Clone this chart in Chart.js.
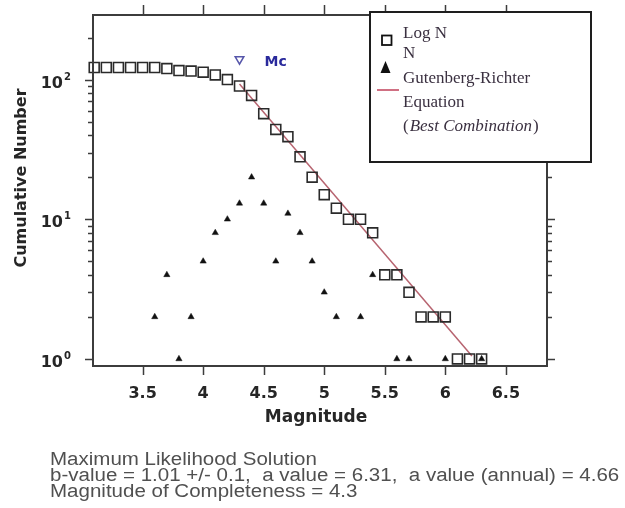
<!DOCTYPE html>
<html><head><meta charset="utf-8">
<script src="https://cdn.jsdelivr.net/npm/chart.js@4/dist/chart.umd.min.js"></script>
<style>html,body{margin:0;padding:0;background:#fff;}#wrap{width:625px;height:508px;position:relative;}</style>
</head><body><div id="wrap"><canvas id="c" width="625" height="508"></canvas></div>
<script>
// ---- data ----
const cumMagnitudes = [3.1,3.2,3.3,3.4,3.5,3.6,3.7,3.8,3.9,4.0,4.1,4.2,4.3,4.4,4.5,4.6,4.7,4.8,4.9,5.0,5.1,5.2,5.3,5.4,5.5,5.6,5.7,5.8,5.9,6.0,6.1,6.2,6.3];
const cumulativeCounts = [122,122,122,122,122,122,120,116,115,113,108,100,90,77,57,44,39,28,20,15,12,10,10,8,4,4,3,2,2,2,1,1,1];
const eventMagnitudes = [3.6,3.7,3.8,3.9,4.0,4.1,4.2,4.3,4.4,4.5,4.6,4.7,4.8,4.9,5.0,5.1,5.3,5.4,5.6,5.7,6.0,6.3];
const eventCounts = [2,4,1,2,5,8,10,13,20,13,5,11,8,5,3,2,2,4,1,1,1,1];
const grMagnitudes = [4.3, 6.22];
const grCounts = [93, 1.05];
const mcMagnitudes = [4.3];
const mcLevels = [140];
const xTickValues = [3.5,4,4.5,5,5.5,6,6.5];
const xTickLabels = ['3.5','4','4.5','5','5.5','6','6.5'];
const yTickValues = [1,10,100];
const yTickExponents = ['0','1','2'];
const yMinorValues = [2,3,4,5,6,7,8,9,20,30,40,50,60,70,80,90,200];
const legendLabels = ['Log N','N','Gutenberg-Richter','Equation'];
const footerLines = ['Maximum Likelihood Solution','b-value = 1.01 +/- 0.1,  a value = 6.31,  a value (annual) = 4.66','Magnitude of Completeness = 4.3'];

const toXY = (xs, ys) => xs.map((x, i) => ({x: x, y: ys[i]}));

const AX = '#3c3c3c';
const deco = {
  id: 'deco',
  afterDraw(chart) {
    const ctx = chart.ctx, xs = chart.scales.x, ys = chart.scales.y, a = chart.chartArea;
    ctx.save();
    // frame
    ctx.strokeStyle = AX; ctx.lineWidth = 2;
    ctx.strokeRect(a.left, a.top, a.right - a.left, a.bottom - a.top);
    ctx.lineWidth = 1.5;
    ctx.beginPath();
    xTickValues.forEach(v => {
      const px = Math.round(xs.getPixelForValue(v)) + 0.5;
      ctx.moveTo(px, a.bottom); ctx.lineTo(px, a.bottom + 9);
      ctx.moveTo(px, a.top); ctx.lineTo(px, a.top - 10);
    });
    yTickValues.forEach(v => {
      const py = Math.round(ys.getPixelForValue(v)) + 0.5;
      ctx.moveTo(a.left, py); ctx.lineTo(a.left - 8, py);
      ctx.moveTo(a.right, py); ctx.lineTo(a.right + 8, py);
    });
    yMinorValues.forEach(v => {
      const py = Math.round(ys.getPixelForValue(v)) + 0.5;
      ctx.moveTo(a.left, py); ctx.lineTo(a.left - 5, py);
      ctx.moveTo(a.right, py); ctx.lineTo(a.right + 5, py);
    });
    ctx.stroke();
    // x tick labels
    ctx.fillStyle = '#262626';
    ctx.font = 'bold 16px "DejaVu Sans"';
    ctx.textAlign = 'center'; ctx.textBaseline = 'alphabetic';
    xTickValues.forEach((v, i) => ctx.fillText(xTickLabels[i], xs.getPixelForValue(v), 398));
    // y tick labels 10^n
    yTickValues.forEach((v, i) => {
      const py = ys.getPixelForValue(v);
      ctx.font = 'bold 16px "DejaVu Sans"'; ctx.textAlign = 'right';
      ctx.fillText('10', 63, py + 8);
      ctx.font = 'bold 10px "DejaVu Sans"'; ctx.textAlign = 'left';
      ctx.fillText(yTickExponents[i], 64, py);
    });
    // axis titles
    ctx.font = 'bold 17px "DejaVu Sans"'; ctx.textAlign = 'center';
    ctx.fillText('Magnitude', 316, 422);
    ctx.save();
    ctx.translate(21.5, 178); ctx.rotate(-Math.PI / 2);
    ctx.font = 'bold 16px "DejaVu Sans"'; ctx.textBaseline = 'middle';
    ctx.fillText('Cumulative Number', 0, 0);
    ctx.restore();
    // Mc label
    ctx.fillStyle = '#2a2a9c'; ctx.font = 'bold 14px "DejaVu Sans"';
    ctx.textAlign = 'left'; ctx.textBaseline = 'middle';
    ctx.fillText('Mc', xs.getPixelForValue(mcMagnitudes[0]) + 25, ys.getPixelForValue(mcLevels[0]) + 3);
    // legend box
    ctx.fillStyle = '#fff'; ctx.fillRect(370, 12, 221, 150);
    ctx.strokeStyle = '#1e1e1e'; ctx.lineWidth = 2; ctx.strokeRect(370, 12, 221, 150);
    ctx.lineWidth = 1.8; ctx.strokeStyle = '#111';
    ctx.strokeRect(382, 35.5, 9.5, 9.5);
    ctx.fillStyle = '#111';
    ctx.beginPath(); ctx.moveTo(385.5, 61); ctx.lineTo(390.5, 73); ctx.lineTo(380.5, 73); ctx.closePath(); ctx.fill();
    ctx.strokeStyle = '#c0405a'; ctx.lineWidth = 1.5;
    ctx.beginPath(); ctx.moveTo(377, 90); ctx.lineTo(399, 90); ctx.stroke();
    ctx.fillStyle = '#3a3040'; ctx.textBaseline = 'alphabetic';
    ctx.font = '17px "Liberation Serif"';
    const lb = [38, 58, 83, 107];
    legendLabels.forEach((t, i) => ctx.fillText(t, 403, lb[i]));
    let lx = 403;
    ctx.fillText('(', lx, 131); lx += ctx.measureText('(').width + 1;
    ctx.font = 'italic 17px "Liberation Serif"';
    ctx.fillText('Best Combination', lx, 131); lx += ctx.measureText('Best Combination').width + 1;
    ctx.font = '17px "Liberation Serif"';
    ctx.fillText(')', lx, 131);
    // footer
    ctx.fillStyle = '#505050'; ctx.font = '18px "Liberation Sans"';
    const fb = [465, 481, 497];
    footerLines.forEach((t, i) => {
      ctx.save(); ctx.translate(50, fb[i]); ctx.scale(1.14, 1);
      ctx.fillText(t, 0, 0); ctx.restore();
    });
    ctx.restore();
  }
};

new Chart(document.getElementById('c'), {
  type: 'scatter',
  data: {
    datasets: [
      {label: 'Log N', data: toXY(cumMagnitudes, cumulativeCounts), pointStyle: 'rect', pointRadius: 7,
       borderColor: '#2a2a2a', borderWidth: 1.6, backgroundColor: 'rgba(255,255,255,0)', order: 1},
      {label: 'N', data: toXY(eventMagnitudes, eventCounts), pointStyle: 'triangle', pointRadius: 3.6,
       borderColor: '#111', borderWidth: 0.5, backgroundColor: '#111', order: 2},
      {label: 'Gutenberg-Richter', type: 'line', data: toXY(grMagnitudes, grCounts), showLine: true, pointRadius: 0,
       borderColor: '#b76470', borderWidth: 1.5, fill: false, order: 3},
      {label: 'Mc', data: toXY(mcMagnitudes, mcLevels), pointStyle: 'triangle', rotation: 180, pointRadius: 5,
       borderColor: '#5656aa', borderWidth: 1.5, backgroundColor: 'rgba(255,255,255,0)', order: 0}
    ]
  },
  options: {
    responsive: false, animation: false, devicePixelRatio: 1,
    layout: {padding: {left: 93, right: 78, top: 15, bottom: 142}},
    scales: {
      x: {type: 'linear', min: 3.09, max: 6.84, display: false},
      y: {type: 'logarithmic', min: 0.89, max: 290, display: false}
    },
    elements: {line: {tension: 0}},
    plugins: {legend: {display: false}, tooltip: {enabled: false}},
    clip: false
  },
  plugins: [deco]
});
</script></body></html>
